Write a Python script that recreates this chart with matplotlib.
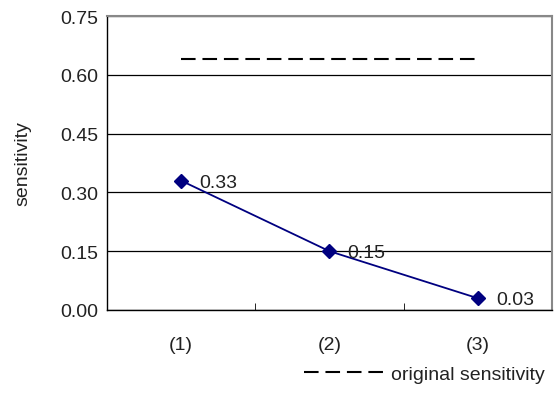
import matplotlib
matplotlib.use("Agg")
import matplotlib.pyplot as plt
from matplotlib.lines import Line2D

# categories and values
categories = ["(1)", "(2)", "(3)"]
sensitivity = [0.33, 0.15, 0.03]
original_sensitivity = 0.64
y_ticks = [0.00, 0.15, 0.30, 0.45, 0.60, 0.75]

plt.rcParams['font.family'] = ['Liberation Sans', 'DejaVu Sans']

fig = plt.figure(figsize=(5.57, 4.06), dpi=100)
ax = fig.add_axes([0.192, 0.234, 0.799, 0.724])

x = list(range(1, len(categories) + 1))

# horizontal gridlines
ax.set_ylim(0, 0.75)
ax.set_yticks(y_ticks)
ax.set_yticklabels(["%.2f" % v for v in y_ticks])
ax.yaxis.grid(True, color="#000000", linewidth=0.9)
ax.set_axisbelow(True)

# original sensitivity reference line (dashed)
ax.plot([x[0], x[-1]], [original_sensitivity] * 2, color="black",
        linewidth=1.5, dashes=(7, 3.3))

# series
ax.plot(x, sensitivity, color="#000080", linewidth=1.3,
        marker="D", markersize=7, markerfacecolor="#000080",
        markeredgecolor="#000080")
for xi, v in zip(x, sensitivity):
    ax.annotate("%.2f" % v, (xi, v), xytext=(13, -1),
                textcoords="offset points", va="center", ha="left",
                fontsize=14, color="#222222")

ax.set_xlim(0.5, len(categories) + 0.5)
ax.set_xticks(x)
ax.set_xticklabels(categories)
ax.set_xticks([1.5, 2.5], minor=True)
ax.tick_params(axis="x", which="major", length=0, pad=19, labelsize=14,
               labelcolor="#222222")
ax.tick_params(axis="x", which="minor", direction="in", length=5)
ax.tick_params(axis="y", length=0, pad=6, labelsize=14, labelcolor="#222222")

ax.set_ylabel("sensitivity", fontsize=14, labelpad=21, color="#222222")

for side in ("top", "right"):
    ax.spines[side].set_color("#888888")
    ax.spines[side].set_linewidth(1.5)
for side in ("left", "bottom"):
    ax.spines[side].set_color("black")
    ax.spines[side].set_linewidth(1.0)

handle = Line2D([], [], color="black", linewidth=1.5, dashes=(7, 3.3))
fig.legend([handle], ["original sensitivity"], loc="lower right",
           bbox_to_anchor=(1.01, 0.012), frameon=False, fontsize=14,
           labelcolor="#222222", handlelength=4.3, handletextpad=0.2)

fig.savefig("out.png", dpi=100)
